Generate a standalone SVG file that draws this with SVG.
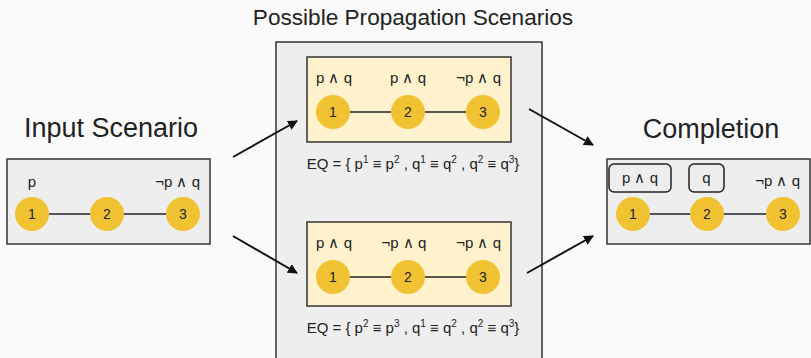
<svg xmlns="http://www.w3.org/2000/svg" width="811" height="358" viewBox="0 0 811 358">
<defs>
<style>
text{font-family:"Liberation Sans",Arial,sans-serif;fill:#222;}
.box{fill:#eeeeee;stroke:#333;stroke-width:1.5;}
.ybox{fill:#fff2cc;stroke:#333;stroke-width:1.5;}
.c{fill:#f1c232;}
.lbl{font-size:15px;}
.eq{font-size:15px;text-anchor:middle;}
.num{font-size:14px;text-anchor:middle;}
.title{font-size:27px;text-anchor:middle;}
.edge{stroke:#222;stroke-width:1.5;}
.arr{stroke:#111;stroke-width:2;fill:none;marker-end:url(#ah);}
.tag{fill:none;stroke:#222;stroke-width:1.5;}
.sup{font-size:10px;}
</style>
<marker id="ah" viewBox="0 0 10 10" refX="9" refY="5" markerWidth="5" markerHeight="5" orient="auto" markerUnits="strokeWidth">
<path d="M0,0 L10,5 L0,10 z" fill="#111"/>
</marker>
</defs>
<rect width="811" height="358" fill="#fafafa"/>

<g id="propagation">
<rect class="box" x="276" y="42" width="266" height="330"/>
<text x="413" y="25" font-size="22.6" text-anchor="middle">Possible Propagation Scenarios</text>
</g>

<g id="input">
<text class="title" x="111" y="137">Input Scenario</text>
<rect class="box" x="7" y="159" width="203" height="85"/>
<line class="edge" x1="32" y1="214" x2="183" y2="214"/>
<text class="lbl" x="32" y="187" text-anchor="middle">p</text>
<text class="lbl" x="200" y="187" text-anchor="end">¬p ∧ q</text>
<circle class="c" cx="32" cy="214" r="17"/><text class="num" x="32" y="219">1</text>
<circle class="c" cx="107" cy="214" r="17"/><text class="num" x="107" y="219">2</text>
<circle class="c" cx="183" cy="214" r="17"/><text class="num" x="183" y="219">3</text>
</g>

<g id="scenario1">
<rect class="ybox" x="307" y="57" width="204" height="85"/>
<line class="edge" x1="333" y1="112" x2="483" y2="112"/>
<text class="lbl" x="334" y="83" text-anchor="middle">p ∧ q</text>
<text class="lbl" x="408" y="83" text-anchor="middle">p ∧ q</text>
<text class="lbl" x="501" y="83" text-anchor="end">¬p ∧ q</text>
<circle class="c" cx="333" cy="112" r="17"/><text class="num" x="333" y="117">1</text>
<circle class="c" cx="408" cy="112" r="17"/><text class="num" x="408" y="117">2</text>
<circle class="c" cx="483" cy="112" r="17"/><text class="num" x="483" y="117">3</text>
<text class="eq" x="413" y="169">EQ = { p<tspan class="sup" dy="-6">1</tspan><tspan dy="6"> ≡ p</tspan><tspan class="sup" dy="-6">2</tspan><tspan dy="6"> , q</tspan><tspan class="sup" dy="-6">1</tspan><tspan dy="6"> ≡ q</tspan><tspan class="sup" dy="-6">2</tspan><tspan dy="6"> , q</tspan><tspan class="sup" dy="-6">2</tspan><tspan dy="6"> ≡ q</tspan><tspan class="sup" dy="-6">3</tspan><tspan dy="6">}</tspan></text>
</g>

<g id="scenario2">
<rect class="ybox" x="307" y="222" width="204" height="84"/>
<line class="edge" x1="333" y1="277" x2="483" y2="277"/>
<text class="lbl" x="334" y="248" text-anchor="middle">p ∧ q</text>
<text class="lbl" x="404" y="248" text-anchor="middle">¬p ∧ q</text>
<text class="lbl" x="501" y="248" text-anchor="end">¬p ∧ q</text>
<circle class="c" cx="333" cy="277" r="17"/><text class="num" x="333" y="282">1</text>
<circle class="c" cx="408" cy="277" r="17"/><text class="num" x="408" y="282">2</text>
<circle class="c" cx="483" cy="277" r="17"/><text class="num" x="483" y="282">3</text>
<text class="eq" x="413" y="333">EQ = { p<tspan class="sup" dy="-6">2</tspan><tspan dy="6"> ≡ p</tspan><tspan class="sup" dy="-6">3</tspan><tspan dy="6"> , q</tspan><tspan class="sup" dy="-6">1</tspan><tspan dy="6"> ≡ q</tspan><tspan class="sup" dy="-6">2</tspan><tspan dy="6"> , q</tspan><tspan class="sup" dy="-6">2</tspan><tspan dy="6"> ≡ q</tspan><tspan class="sup" dy="-6">3</tspan><tspan dy="6">}</tspan></text>
</g>

<g id="completion">
<text class="title" x="711" y="138">Completion</text>
<rect class="box" x="607" y="159" width="203" height="85"/>
<line class="edge" x1="633" y1="214" x2="783" y2="214"/>
<rect class="tag" x="609" y="164" width="62" height="28" rx="5"/>
<text class="lbl" x="640" y="183" text-anchor="middle">p ∧ q</text>
<rect class="tag" x="689" y="164" width="35" height="28" rx="5"/>
<text class="lbl" x="706.5" y="183" text-anchor="middle">q</text>
<text class="lbl" x="800" y="186" text-anchor="end">¬p ∧ q</text>
<circle class="c" cx="633" cy="214" r="17"/><text class="num" x="633" y="219">1</text>
<circle class="c" cx="707" cy="214" r="17"/><text class="num" x="707" y="219">2</text>
<circle class="c" cx="783" cy="214" r="17"/><text class="num" x="783" y="219">3</text>
</g>

<g id="connectors">
<line class="arr" x1="233" y1="157" x2="297" y2="121"/>
<line class="arr" x1="233" y1="236" x2="297" y2="273"/>
<line class="arr" x1="529" y1="109" x2="593" y2="145"/>
<line class="arr" x1="527" y1="273" x2="593" y2="236"/>
</g>
</svg>
